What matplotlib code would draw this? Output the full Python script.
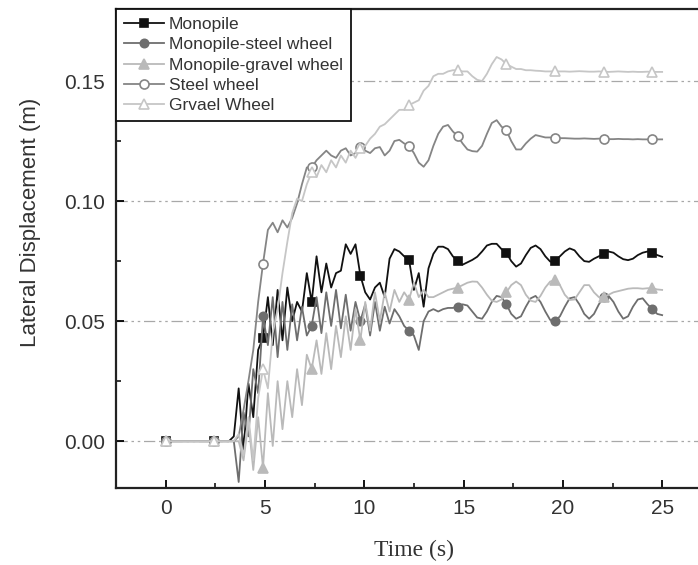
import numpy as np
import matplotlib
matplotlib.use("Agg")
import matplotlib.pyplot as plt
from matplotlib.ticker import MultipleLocator, FormatStrFormatter

# sampling grid (s): 103 samples every 0.245 s
time_step = 0.245
n_samples = 103
time = np.arange(n_samples) * time_step

series_names = ["Monopile", "Monopile-steel wheel", "Monopile-gravel wheel",
                "Steel wheel", "Grvael Wheel"]

flat_start = [0.0] * 14

monopile = flat_start + [
    0.002, 0.022, -0.004, 0.024, 0.010, 0.038, 0.043, 0.060, 0.040, 0.063,
    0.042, 0.064, 0.050, 0.058, 0.054, 0.070, 0.058, 0.077, 0.062, 0.074,
    0.064, 0.070, 0.071, 0.082, 0.078, 0.082, 0.069, 0.062, 0.059, 0.064,
    0.066, 0.060, 0.076, 0.080, 0.079, 0.077, 0.0755, 0.063, 0.070, 0.056,
    0.072, 0.078, 0.081, 0.081, 0.080, 0.077, 0.075, 0.0735, 0.0745, 0.0755,
    0.0768, 0.079, 0.0815, 0.0822, 0.0822, 0.080, 0.0785, 0.075, 0.0727, 0.074,
    0.0775, 0.0805, 0.0815, 0.080, 0.077, 0.0748, 0.075, 0.077, 0.079, 0.0803,
    0.0795, 0.077, 0.075, 0.0747, 0.076, 0.077, 0.078, 0.079, 0.0785, 0.077,
    0.0758, 0.0754, 0.076, 0.0775, 0.0785, 0.079, 0.0785, 0.0775, 0.0768]

monopile_steel = flat_start + [
    0.0, -0.017, 0.012, 0.002, 0.030, 0.020, 0.052, 0.040, 0.060, 0.035,
    0.058, 0.038, 0.057, 0.042, 0.056, 0.044, 0.048, 0.060, 0.045, 0.062,
    0.048, 0.063, 0.047, 0.061, 0.046, 0.058, 0.050, 0.057, 0.044, 0.058,
    0.046, 0.056, 0.049, 0.055, 0.052, 0.048, 0.046, 0.044, 0.038, 0.050,
    0.054, 0.055, 0.054, 0.055, 0.0555, 0.0555, 0.056, 0.057, 0.0565, 0.054,
    0.0515, 0.051, 0.054, 0.058, 0.0605, 0.060, 0.057, 0.053, 0.051, 0.052,
    0.056, 0.0595, 0.0605, 0.058, 0.054, 0.0505, 0.050, 0.052, 0.056, 0.0595,
    0.060, 0.057, 0.053, 0.051, 0.053, 0.057, 0.060, 0.0605, 0.058, 0.054,
    0.051, 0.052, 0.056, 0.059, 0.0595, 0.057, 0.055, 0.053, 0.0525]

monopile_gravel = flat_start + [
    0.0, 0.0, -0.008, 0.008, -0.012, 0.010, -0.011, 0.020, -0.002, 0.025,
    0.005, 0.025, 0.010, 0.030, 0.015, 0.036, 0.030, 0.042, 0.028, 0.045,
    0.030, 0.048, 0.035, 0.052, 0.038, 0.055, 0.042, 0.058, 0.046, 0.062,
    0.050, 0.062, 0.054, 0.063, 0.058, 0.062, 0.059, 0.066, 0.060, 0.063,
    0.060, 0.060, 0.061, 0.062, 0.063, 0.0635, 0.064, 0.065, 0.066, 0.0665,
    0.0664, 0.064, 0.061, 0.0585, 0.058, 0.059, 0.062, 0.065, 0.0665, 0.065,
    0.061, 0.0585, 0.058, 0.0605, 0.064, 0.0665, 0.067, 0.065, 0.061, 0.0588,
    0.059, 0.062, 0.065, 0.065, 0.062, 0.060, 0.060, 0.061, 0.062, 0.0625,
    0.063, 0.0635, 0.0637, 0.0637, 0.0635, 0.0637, 0.0637, 0.0632, 0.063]

steel_wheel = flat_start + [
    0.0, 0.002, 0.013, 0.025, 0.038, 0.058, 0.074, 0.088, 0.091, 0.087,
    0.092, 0.089, 0.093, 0.099, 0.107, 0.114, 0.114, 0.117, 0.119, 0.121,
    0.119, 0.118, 0.121, 0.122, 0.119, 0.120, 0.1225, 0.121, 0.120, 0.122,
    0.1225, 0.119, 0.121, 0.125, 0.1255, 0.124, 0.123, 0.120, 0.116, 0.1143,
    0.117, 0.123, 0.128, 0.131, 0.1317, 0.129, 0.127, 0.124, 0.1215, 0.1208,
    0.1206, 0.123, 0.128, 0.1325, 0.1337, 0.131, 0.1295, 0.125, 0.1215, 0.1215,
    0.124, 0.126, 0.1275, 0.127, 0.1265, 0.1265, 0.1263, 0.1262, 0.1262, 0.1261,
    0.126, 0.126, 0.1261, 0.126, 0.1259, 0.126, 0.1259, 0.1258, 0.1258, 0.1259,
    0.1258, 0.1258, 0.1257, 0.1258, 0.1257, 0.1257, 0.1258, 0.1257, 0.1257]

gravel_wheel = flat_start + [
    0.0, 0.003, -0.006, 0.010, -0.008, 0.018, 0.030, 0.022, 0.045, 0.055,
    0.070, 0.083, 0.095, 0.101, 0.100, 0.107, 0.112, 0.110, 0.115, 0.112,
    0.117, 0.114, 0.119, 0.116, 0.121, 0.118, 0.122, 0.123, 0.126, 0.128,
    0.131, 0.132, 0.134, 0.136, 0.138, 0.138, 0.140, 0.141, 0.142, 0.146,
    0.148, 0.152, 0.153, 0.153, 0.154, 0.1545, 0.1545, 0.154, 0.154, 0.152,
    0.1505, 0.150, 0.153, 0.157, 0.160, 0.159, 0.157, 0.156, 0.155, 0.155,
    0.1545, 0.1545, 0.1543, 0.1542, 0.154, 0.154, 0.1541, 0.154, 0.154, 0.1539,
    0.154, 0.1541, 0.154, 0.1539, 0.1539, 0.154, 0.1539, 0.1538, 0.1539, 0.154,
    0.1539, 0.1538, 0.1539, 0.1538, 0.1538, 0.1539, 0.1538, 0.1538, 0.1538]

series_values = [monopile, monopile_steel, monopile_gravel, steel_wheel, gravel_wheel]

y_ticks = [0.00, 0.05, 0.10, 0.15]
x_ticks = [0, 5, 10, 15, 20, 25]

styles = [
    dict(color="#111111", marker="s", mfc="#111111", mec="#111111", ms=5.5),
    dict(color="#6e6e6e", marker="o", mfc="#6e6e6e", mec="#6e6e6e", ms=6),
    dict(color="#bababa", marker="^", mfc="#bababa", mec="#bababa", ms=6.5),
    dict(color="#858585", marker="o", mfc="white", mec="#858585", ms=6.5),
    dict(color="#c6c6c6", marker="^", mfc="white", mec="#c6c6c6", ms=7),
]

plt.rcParams["font.family"] = ["Liberation Sans", "DejaVu Sans"]

fig = plt.figure(figsize=(6.98, 5.65), dpi=100)
ax = fig.add_axes([116 / 698, 1 - 488 / 565, (712 - 116) / 698, (488 - 9) / 565])

for k, (name, vals, st) in enumerate(zip(series_names, series_values, styles)):
    ax.plot(time, vals, label=name, lw=1.3, markevery=10, mew=1.2,
            zorder=2 + k, **st)

ax.set_xlim(-2.5, 27.5)
ax.set_ylim(-0.0195, 0.18)
ax.set_xticks(x_ticks)
ax.set_yticks(y_ticks)
ax.xaxis.set_minor_locator(MultipleLocator(2.5))
ax.yaxis.set_minor_locator(MultipleLocator(0.025))
ax.yaxis.set_major_formatter(FormatStrFormatter("%.2f"))
ax.tick_params(which="major", direction="in", length=6, width=1.3,
               labelsize=15, labelcolor="#333333", pad=8)
ax.tick_params(which="minor", direction="in", length=3.5, width=1.1)

for yt in y_ticks:
    ax.axhline(yt, color="#a8a8a8", lw=0.9, ls=(0, (9, 3, 2, 3, 2, 3)), zorder=0.5)

for s in ax.spines.values():
    s.set_linewidth(1.6)
    s.set_color("#222222")

ax.set_xlabel("Time (s)", fontsize=17, family=["Liberation Serif", "DejaVu Serif"],
              color="#333333", labelpad=16)
ax.set_ylabel("Lateral Displacement (m)", fontsize=16, color="#333333")
ax.yaxis.set_label_coords(-0.125, 0.555)

leg = ax.legend(loc="upper left", bbox_to_anchor=(0, 1), borderaxespad=0,
                fontsize=12.5, frameon=True, fancybox=False, edgecolor="#111111",
                framealpha=1, handlelength=2.3, handletextpad=0.3,
                labelspacing=0.3, borderpad=0.45)
leg.get_frame().set_linewidth(1.3)
for txt in leg.get_texts():
    txt.set_color("#333333")
leg.set_zorder(10)

fig.savefig("out.png", dpi=100)
